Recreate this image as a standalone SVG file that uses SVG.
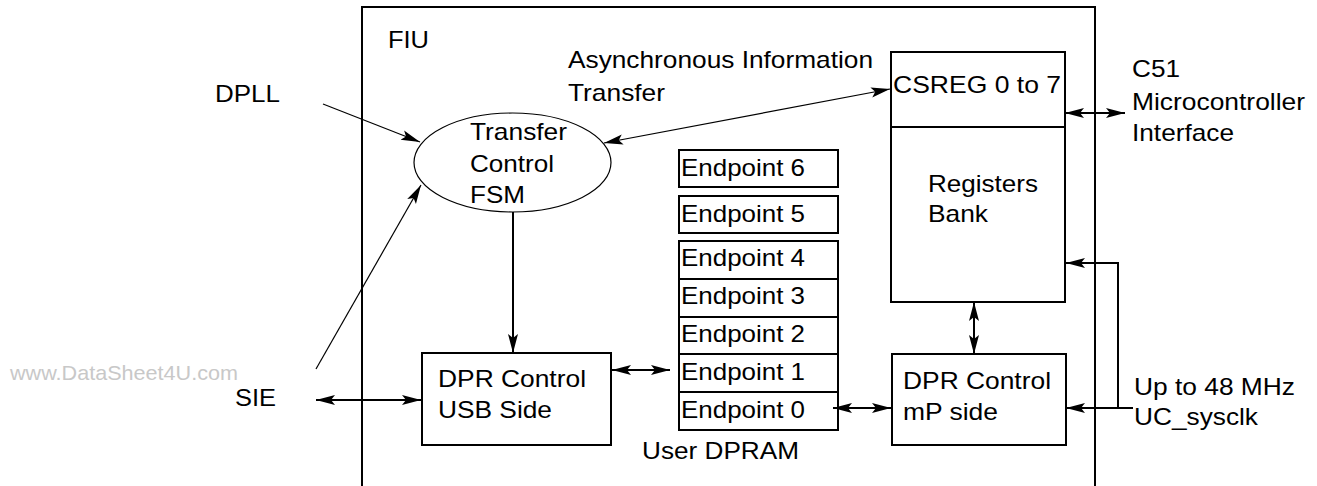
<svg xmlns="http://www.w3.org/2000/svg" width="1317" height="486" viewBox="0 0 1317 486">
<style>
text{font-family:"Liberation Sans",Arial,Helvetica,sans-serif;font-size:24px;fill:#000}
.wm{font-size:21px;fill:#c8c8c8}
.box{fill:#fff;stroke:#000;stroke-width:2}
.c1{fill:none;stroke:#000;stroke-width:1.2}
.c2{fill:none;stroke:#000;stroke-width:2}
.ae{marker-end:url(#ah)}
.ab{marker-start:url(#ah);marker-end:url(#ah)}
</style>
<defs>
<marker id="ah" markerUnits="userSpaceOnUse" markerWidth="20" markerHeight="12" viewBox="0 0 20 12" refX="19" refY="6" orient="auto-start-reverse">
<path d="M0,1 L19,6 L0,11 L4,6 z" fill="#000"/>
</marker>
</defs>
<rect width="1317" height="486" fill="#fff"/>
<text class="wm" x="10" y="380" textLength="228" lengthAdjust="spacingAndGlyphs">www.DataSheet4U.com</text>
<g id="fiu">
<path d="M362,495 V7 H1095 V495" class="c2"/>
<text x="388" y="48" textLength="41" lengthAdjust="spacingAndGlyphs">FIU</text>
</g>
<g id="labels">
<text x="215" y="102" textLength="65" lengthAdjust="spacingAndGlyphs">DPLL</text>
<text x="235" y="406" textLength="41" lengthAdjust="spacingAndGlyphs">SIE</text>
<text x="568" y="68" textLength="305" lengthAdjust="spacingAndGlyphs">Asynchronous Information</text>
<text x="568" y="101" textLength="97" lengthAdjust="spacingAndGlyphs">Transfer</text>
<text x="1132" y="77" textLength="48" lengthAdjust="spacingAndGlyphs">C51</text>
<text x="1132" y="110" textLength="173" lengthAdjust="spacingAndGlyphs">Microcontroller</text>
<text x="1132" y="141" textLength="102" lengthAdjust="spacingAndGlyphs">Interface</text>
<text x="1134" y="395" textLength="161" lengthAdjust="spacingAndGlyphs">Up to 48 MHz</text>
<text x="1134" y="425" textLength="124" lengthAdjust="spacingAndGlyphs">UC_sysclk</text>
</g>
<g id="fsm">
<ellipse cx="512.5" cy="162.5" rx="98.5" ry="49.5" fill="#fff" stroke="#000" stroke-width="1.2"/>
<text x="470" y="140" textLength="97" lengthAdjust="spacingAndGlyphs">Transfer</text>
<text x="470" y="172" textLength="84" lengthAdjust="spacingAndGlyphs">Control</text>
<text x="470" y="203" textLength="55" lengthAdjust="spacingAndGlyphs">FSM</text>
</g>
<g id="dpr-usb">
<rect class="box" x="422" y="353" width="189" height="92"/>
<text x="438" y="387" textLength="148" lengthAdjust="spacingAndGlyphs">DPR Control</text>
<text x="438" y="418" textLength="114" lengthAdjust="spacingAndGlyphs">USB Side</text>
</g>
<g id="ep6">
<rect class="box" x="679" y="150" width="159" height="37"/>
<text x="681" y="176" textLength="124" lengthAdjust="spacingAndGlyphs">Endpoint 6</text>
</g>
<g id="ep5">
<rect class="box" x="679" y="196" width="159" height="37"/>
<text x="681" y="222" textLength="124" lengthAdjust="spacingAndGlyphs">Endpoint 5</text>
</g>
<g id="dpram">
<rect class="box" x="679" y="241" width="159" height="189"/>
<path d="M679,279 H838 M679,317 H838 M679,354 H838 M679,392 H838" class="c2"/>
<text x="681" y="266" textLength="124" lengthAdjust="spacingAndGlyphs">Endpoint 4</text>
<text x="681" y="304" textLength="124" lengthAdjust="spacingAndGlyphs">Endpoint 3</text>
<text x="681" y="342" textLength="124" lengthAdjust="spacingAndGlyphs">Endpoint 2</text>
<text x="681" y="380" textLength="124" lengthAdjust="spacingAndGlyphs">Endpoint 1</text>
<text x="681" y="418" textLength="124" lengthAdjust="spacingAndGlyphs">Endpoint 0</text>
<text x="642" y="459" textLength="157" lengthAdjust="spacingAndGlyphs">User DPRAM</text>
</g>
<g id="regbank">
<rect class="box" x="891" y="52" width="174" height="250"/>
<path d="M891,127 H1065" class="c2"/>
<text x="893" y="93" textLength="168" lengthAdjust="spacingAndGlyphs">CSREG 0 to 7</text>
<text x="928" y="192" textLength="110" lengthAdjust="spacingAndGlyphs">Registers</text>
<text x="928" y="222" textLength="60" lengthAdjust="spacingAndGlyphs">Bank</text>
</g>
<g id="dpr-mp">
<rect class="box" x="892" y="354" width="174" height="91"/>
<text x="903" y="389" textLength="148" lengthAdjust="spacingAndGlyphs">DPR Control</text>
<text x="903" y="420" textLength="95" lengthAdjust="spacingAndGlyphs">mP side</text>
</g>
<g id="connectors">
<path class="c1 ae" d="M323,104 L420,142"/>
<path class="c1 ae" d="M316,369 L421,185"/>
<path class="c1 ab" d="M604,143 L890,89"/>
<path class="c2 ae" d="M513,212 V353"/>
<path class="c2 ab" d="M316,400 H421"/>
<path class="c2 ab" d="M612,370 H670"/>
<path class="c2 ab" d="M833,408 H891"/>
<path class="c2 ab" d="M974,302 V354"/>
<path class="c2 ab" d="M1065,113 H1125"/>
<path class="c2 ae" d="M1118,408 V263 H1066"/>
<path class="c2 ae" d="M1133,408 H1066"/>
</g>
</svg>
